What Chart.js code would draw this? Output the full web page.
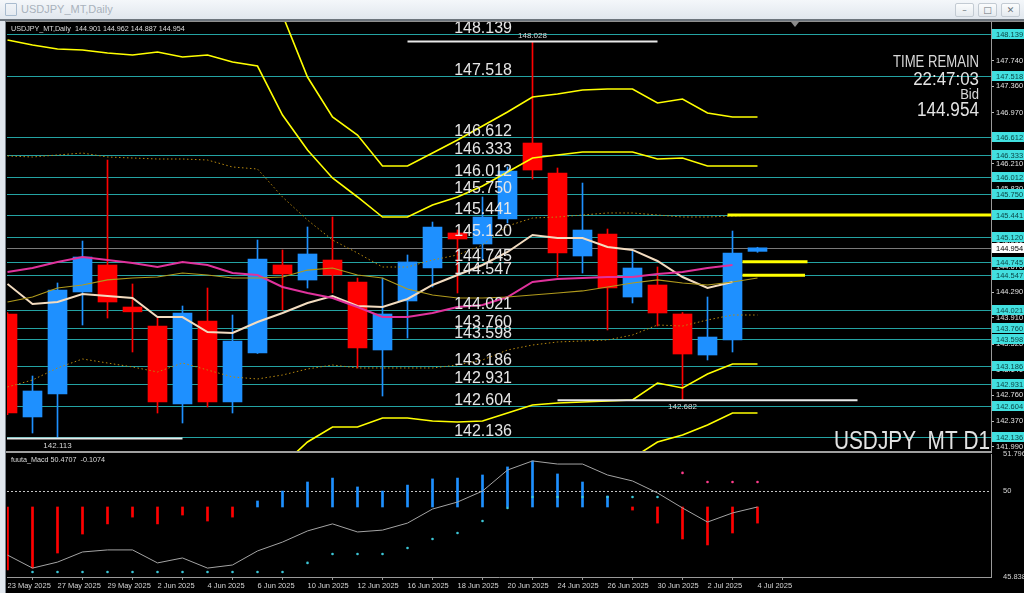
<!DOCTYPE html>
<html>
<head>
<meta charset="utf-8">
<title>USDJPY_MT,Daily</title>
<script src="https://cdn.jsdelivr.net/npm/chart.js@4.4.1/dist/chart.umd.min.js"></script>
<style>
  html, body { margin: 0; padding: 0; width: 1024px; height: 593px; overflow: hidden; background: #000; }
  #titlebar { position: absolute; left: 0; top: 0; width: 1024px; height: 19px; background: linear-gradient(#f4f7fa, #e1e7ee); border-bottom: 2px solid #6c747c; }
  #titlebar .icon { position: absolute; left: 5px; top: 3px; width: 10px; height: 11px; border: 1px solid #a9bccf; border-radius: 1px; }
  #titlebar .name { position: absolute; left: 21px; top: 3px; font: 11px "Liberation Sans", Arial, sans-serif; color: #a9b2bc; }
  .btn { position: absolute; top: 3px; width: 17px; height: 12px; border: 1px solid #c3cbd3; border-radius: 2px; background: linear-gradient(#fbfcfd, #e5eaef); font: 9px "DejaVu Sans", sans-serif; color: #6a727a; text-align: center; line-height: 12px; }
  #leftframe { position: absolute; left: 0; top: 21px; width: 5px; height: 572px; background: #e1e7ee; border-right: 1px solid #7b838b; }
  canvas { position: absolute; left: 0; top: 0; }
</style>
</head>
<body>
<div id="titlebar">
  <div class="icon"></div>
  <div class="name">USDJPY_MT,Daily</div>
  <div class="btn" style="left:955px">&#8211;</div>
  <div class="btn" style="left:978px">&#9633;</div>
  <div class="btn" style="left:1001px">&#10005;</div>
</div>
<div id="leftframe"></div>
<canvas id="priceChart" width="1024" height="593"></canvas>
<canvas id="macdChart" width="1024" height="593"></canvas>
<script>
// ---------- data ----------
const DATES = ['23 May 2025', '26 May 2025', '27 May 2025', '28 May 2025', '29 May 2025', '30 May 2025',
  '2 Jun 2025', '3 Jun 2025', '4 Jun 2025', '5 Jun 2025', '6 Jun 2025', '9 Jun 2025', '10 Jun 2025',
  '11 Jun 2025', '12 Jun 2025', '13 Jun 2025', '16 Jun 2025', '17 Jun 2025', '18 Jun 2025', '19 Jun 2025',
  '20 Jun 2025', '23 Jun 2025', '24 Jun 2025', '25 Jun 2025', '26 Jun 2025', '27 Jun 2025', '30 Jun 2025',
  '1 Jul 2025', '2 Jul 2025', '3 Jul 2025', '4 Jul 2025'];

const OPEN  = [143.968, 142.434, 142.776, 144.296, 144.698, 144.072, 143.789, 142.627, 143.864, 142.657, 143.387,
  144.698, 144.474, 144.772, 144.445, 143.432, 144.162, 144.653, 145.175, 145.011, 145.383, 146.515, 146.068,
  144.832, 145.160, 144.221, 144.400, 143.968, 143.357, 143.581, 144.901];
const HIGH  = [143.990, 143.044, 144.430, 145.055, 146.262, 144.415, 143.908, 144.087, 144.355, 143.953, 145.070,
  144.921, 145.264, 145.413, 144.504, 144.504, 144.847, 145.338, 145.220, 145.711, 146.158, 148.028, 146.143,
  145.919, 145.234, 144.906, 144.668, 143.990, 144.221, 145.204, 144.962];
const LOW   = [142.470, 142.195, 142.113, 143.804, 143.908, 143.402, 142.493, 142.344, 142.583, 142.493, 143.380,
  144.027, 144.355, 144.281, 143.164, 142.746, 143.610, 144.370, 144.281, 144.772, 145.324, 145.979, 144.519,
  144.579, 143.730, 144.132, 143.789, 142.682, 143.283, 143.402, 144.887];
const CLOSE = [142.493, 142.821, 144.326, 144.817, 144.147, 144.000, 142.657, 143.983, 142.657, 143.566, 144.787,
  144.564, 144.862, 144.549, 143.461, 143.968, 144.743, 145.264, 145.085, 145.413, 146.098, 146.113, 144.877,
  145.219, 144.355, 144.653, 143.983, 143.372, 143.625, 144.877, 144.954];

// band lines
const UPPER_OUTER = [148.90, 148.88, 148.86, 148.84, 148.82, 148.80, 148.79, 148.78, 148.76, 148.72, 148.66,
  148.422, 147.498, 146.903, 146.634, 146.173, 146.173, 146.366, 146.560, 146.769, 146.977, 147.201, 147.245,
  147.305, 147.320, 147.320, 147.111, 147.171, 146.962, 146.903, 146.903];
const UPPER_INNER = [148.050, 147.975, 147.916, 147.901, 147.856, 147.826, 147.871, 147.796, 147.826, 147.722,
  147.662, 146.932, 146.411, 145.994, 145.711, 145.413, 145.413, 145.592, 145.711, 145.875, 146.083, 146.292,
  146.337, 146.381, 146.381, 146.381, 146.277, 146.292, 146.173, 146.173, 146.173];
const UPPER_DOT = [146.322, 146.307, 146.337, 146.366, 146.307, 146.292, 146.277, 146.277, 146.262, 146.158,
  146.128, 145.711, 145.368, 145.070, 144.877, 144.668, 144.668, 144.773, 144.847, 144.996, 145.279, 145.398,
  145.413, 145.443, 145.473, 145.473, 145.443, 145.413, 145.413, 145.428, 145.443];
const MIDDLE = [144.147, 144.221, 144.355, 144.400, 144.475, 144.504, 144.519, 144.579, 144.549, 144.504, 144.504,
  144.519, 144.623, 144.653, 144.549, 144.504, 144.341, 144.251, 144.206, 144.206, 144.221, 144.251, 144.281,
  144.311, 144.370, 144.430, 144.475, 144.430, 144.400, 144.445, 144.504];
const LOWER_DOT = [142.881, 142.985, 143.164, 143.298, 143.238, 143.179, 143.104, 143.238, 143.134, 143.030,
  143.000, 143.059, 143.149, 143.208, 143.164, 143.164, 143.164, 143.164, 143.208, 143.283, 143.432, 143.506,
  143.551, 143.566, 143.581, 143.655, 143.804, 143.789, 143.879, 143.953, 143.953];
const LOWER_INNER = [141.55, 141.57, 141.60, 141.62, 141.63, 141.63, 141.62, 141.64, 141.63, 141.62, 141.65,
  141.719, 142.061, 142.285, 142.285, 142.419, 142.419, 142.374, 142.359, 142.374, 142.493, 142.612, 142.642,
  142.657, 142.672, 142.687, 142.940, 142.866, 143.074, 143.223, 143.223];
const LOWER_OUTER = [141.30, 141.32, 141.35, 141.37, 141.38, 141.38, 141.37, 141.40, 141.39, 141.38, 141.41,
  141.45, 141.55, 141.62, 141.62, 141.68, 141.68, 141.66, 141.66, 141.67, 141.72, 141.78, 141.80, 141.81, 141.81,
  141.823, 142.061, 142.166, 142.315, 142.493, 142.493];

// moving averages
const MA_PINK = [144.594, 144.653, 144.743, 144.817, 144.772, 144.728, 144.668, 144.743, 144.698, 144.579, 144.549,
  144.370, 144.281, 144.206, 144.072, 143.923, 143.923, 143.983, 144.072, 144.102, 144.221, 144.445, 144.489,
  144.504, 144.519, 144.519, 144.564, 144.594, 144.653, 144.698, null];
const MA_FAST = [144.415, 144.117, 144.147, 144.266, 144.236, 144.206, 143.923, 143.923, 143.700, 143.685, 143.849,
  143.983, 144.132, 144.236, 144.087, 144.072, 144.192, 144.400, 144.549, 144.698, 144.892, 145.145, 145.100,
  145.100, 144.966, 144.922, 144.758, 144.519, 144.355, 144.445, null];

// horizontal levels (lines + labels)
const LEVELS = [148.139, 147.518, 146.612, 146.333, 146.012, 145.750, 145.441, 145.120, 144.745, 144.547,
  144.021, 143.760, 143.598, 143.186, 142.931, 142.604, 142.136];
const PRICE_TICKS = [147.740, 147.360, 146.970, 146.590, 146.210, 145.830, 145.450, 145.050, 144.670, 144.290,
  143.910, 143.520, 143.140, 142.760, 142.370, 141.990];
const PRICE_MIN = 141.927;
const PRICE_MAX = 148.318;
const BID = 144.954;

// high / low markers
const MARK_PRICES = [148.028, 142.682, 142.113];
const MARK_BARS = [21, 27, 2];

// short projection levels on the right
const PROJ_LEVELS = [145.441, 144.745, 144.547];
const PROJ_FROM = [28.8, 29.4, 29.4];
const PROJ_TO = [39.4, 32.0, 31.9];

// MACD panel
const HIST_BASE = 49.23;
const HIST = [46.18, 46.27, 47.00, 47.92, 48.41, 48.74, 48.41, 48.84, 48.55, 48.74, 49.52, 50.00, 50.44, 50.63,
  50.20, 50.00, 50.29, 50.59, 50.63, 50.78, 51.17, 51.46, 50.83, 50.44, 49.76, 49.08, 48.45, 47.68, 47.39, 47.97, 48.45];
const MACD_LINE = [46.90, 46.27, 46.56, 47.05, 47.15, 47.15, 46.52, 46.76, 46.27, 46.42, 47.10, 47.53, 48.07, 48.41,
  48.02, 48.11, 48.45, 49.13, 49.47, 50.00, 51.02, 51.46, 51.31, 51.31, 50.78, 50.49, 49.91, 49.18, 48.50, 48.94, 49.23];
const MACD_DOTS = [null, 46.08, 46.08, 46.08, 46.08, 46.08, 46.08, 46.08, 46.08, 46.08, 46.08, 46.08, 46.52, 46.95,
  46.95, 46.95, 47.24, 47.68, 47.97, 48.55, 49.18, 49.71, 49.71, 49.71, 49.71, 49.71, 49.71, 50.88, 50.44, 50.44, 50.44];
const MACD_MIN = 45.838;
const MACD_MAX = 51.7964;
const MACD_TICKS = [45.838, 50, 51.7964];
const MACD_LEVEL = 50;

// texts
const HEADER = 'USDJPY_MT,Daily  144.901 144.962 144.887 144.954';
const MACD_HEADER = 'fuuta_Macd 50.4707  -0.1074';
const SYMBOL_TEXT = 'USDJPY_MT D1';
const TIMER = ['TIME REMAIN', '22:47:03', 'Bid', '144.954'];

// ---------- style ----------
const FONT = "'Liberation Sans', Arial, sans-serif";
const BULL = '#1e90ff';
const BEAR = '#ff0000';
const YELLOW = '#ffff00';
const LEVEL_LINE = '#24a3a3';
const LEVEL_BOX = '#42e0e0';
const X_MIN = -0.02;
const X_MAX = X_MIN + 984 / 25;
const MARK_SPANS = [[-5, 5], [-5, 7], [-2.02, 5]];
const MARK_LABEL_DY = [-6, 6, 7];

Chart.defaults.font.family = FONT;

const idx = DATES.map((d, i) => i);
const pts = arr => arr.map((v, i) => ({ x: i, y: v })).filter(p => p.y !== null);
const candleColors = idx.map(i => CLOSE[i] >= OPEN[i] ? BULL : BEAR);

function line(data, color, width, dash, order) {
  return { type: 'line', data: pts(data), borderColor: color, borderWidth: width, borderDash: dash || [],
    pointRadius: 0, tension: 0, order: order === undefined ? 0 : order };
}

function text(ctx, str, x, y, font, color, align, sx, baseline) {
  ctx.save();
  ctx.font = font;
  ctx.fillStyle = color;
  ctx.textAlign = align || 'left';
  ctx.textBaseline = baseline || 'alphabetic';
  ctx.translate(x, y);
  ctx.scale(sx || 1, 1);
  ctx.fillText(str, 0, 0);
  ctx.restore();
}

const priceOverlay = {
  id: 'priceOverlay',
  beforeDatasetsDraw(chart) {
    const { ctx, chartArea: a } = chart;
    const y = chart.scales.y;
    ctx.save();
    ctx.beginPath();
    ctx.rect(a.left, a.top, a.right - a.left, a.bottom - a.top);
    ctx.clip();
    ctx.lineWidth = 1;
    ctx.strokeStyle = '#7a7a7a';
    let py = Math.round(y.getPixelForValue(BID)) + 0.5;
    ctx.beginPath(); ctx.moveTo(a.left, py); ctx.lineTo(a.right, py); ctx.stroke();
    ctx.strokeStyle = LEVEL_LINE;
    LEVELS.forEach(v => {
      py = Math.round(y.getPixelForValue(v)) + 0.5;
      ctx.beginPath(); ctx.moveTo(a.left, py); ctx.lineTo(a.right, py); ctx.stroke();
    });
    ctx.restore();
  },
  afterDatasetsDraw(chart) {
    const { ctx, chartArea: a } = chart;
    const x = chart.scales.x, y = chart.scales.y;
    ctx.save();
    ctx.beginPath();
    ctx.rect(a.left, a.top, a.right - a.left, a.bottom - a.top);
    ctx.clip();
    // big level labels
    LEVELS.forEach(v => {
      const py = Math.round(y.getPixelForValue(v)) - 1;
      text(ctx, v.toFixed(3), 512, py, '16px ' + FONT, '#e6e6e6', 'right');
    });
    // high / low marker labels
    MARK_PRICES.forEach((p, k) => {
      const px = x.getPixelForValue(MARK_BARS[k]);
      const py = y.getPixelForValue(p) + MARK_LABEL_DY[k];
      text(ctx, p.toFixed(3), px, py, '8px ' + FONT, '#d6d6d6', 'center', 1, 'middle');
    });
    // header
    text(ctx, HEADER, 11, 29, '7.2px ' + FONT, '#dcdcdc', 'left', 1, 'middle');
    // timer block
    text(ctx, TIMER[0], 979, 67, '16px ' + FONT, '#d8d8d8', 'right', 0.82);
    text(ctx, TIMER[1], 979, 85, '19px ' + FONT, '#e4e4e4', 'right', 0.89);
    text(ctx, TIMER[2], 979, 99, '15px ' + FONT, '#d8d8d8', 'right', 0.87);
    text(ctx, TIMER[3], 979, 116, '19.5px ' + FONT, '#e4e4e4', 'right', 0.88);
    // symbol
    text(ctx, SYMBOL_TEXT, 990, 449, '26px ' + FONT, '#e2e2e2', 'right', 0.8);
    ctx.restore();
  },
  afterDraw(chart) {
    const { ctx, chartArea: a } = chart;
    const y = chart.scales.y;
    ctx.save();
    ctx.font = '7.5px ' + FONT;
    ctx.textBaseline = 'middle';
    ctx.textAlign = 'left';
    LEVELS.forEach(v => {
      const py = Math.round(y.getPixelForValue(v));
      ctx.fillStyle = LEVEL_BOX;
      ctx.fillRect(a.right + 1, py - 5, 1024 - a.right - 1, 10);
      ctx.fillStyle = '#0b4646';
      ctx.fillText(v.toFixed(3), a.right + 5, py + 0.5);
    });
    const by = Math.round(y.getPixelForValue(BID));
    ctx.fillStyle = '#ffffff';
    ctx.fillRect(a.right + 1, by - 5, 1024 - a.right - 1, 10);
    ctx.fillStyle = '#000000';
    ctx.fillText(BID.toFixed(3), a.right + 5, by + 0.5);
    // frame lines
    ctx.fillStyle = '#8f8f8f';
    ctx.fillRect(a.left - 1, a.top - 1, 1024 - a.left + 1, 1);
    ctx.fillStyle = '#a0a0a0';
    ctx.fillRect(a.left - 1, a.bottom, a.right - a.left + 2, 2);
    // chart shift marker
    ctx.fillStyle = '#8a8a8a';
    ctx.beginPath(); ctx.moveTo(791, a.top); ctx.lineTo(799, a.top); ctx.lineTo(795, a.top + 5); ctx.closePath(); ctx.fill();
    ctx.restore();
  }
};

const priceDatasets = [
  line(UPPER_OUTER, YELLOW, 1.6),
  line(UPPER_INNER, YELLOW, 1.6),
  line(UPPER_DOT, '#b8890f', 1, [1.5, 2.5]),
  line(MIDDLE, '#b09a1c', 1.2),
  line(LOWER_DOT, '#b8890f', 1, [1.5, 2.5]),
  line(LOWER_INNER, YELLOW, 1.6),
  line(LOWER_OUTER, YELLOW, 1.6),
  line(MA_PINK, '#e0329c', 2),
  line(MA_FAST, '#f3dcc0', 2),
  {
    type: 'bar', label: 'body', order: 5, grouped: false, barThickness: 19,
    data: idx.map(i => ({ x: i, y: [OPEN[i], CLOSE[i]] })),
    backgroundColor: candleColors
  },
  {
    type: 'bar', label: 'wick', order: 6, grouped: false, barThickness: 1,
    data: idx.map(i => ({ x: i, y: [LOW[i], HIGH[i]] })),
    backgroundColor: candleColors
  }
];
MARK_PRICES.forEach((p, k) => {
  priceDatasets.push({
    type: 'line', order: -1, borderColor: '#e8e8e8', borderWidth: 2, pointRadius: 0,
    data: [{ x: MARK_BARS[k] + MARK_SPANS[k][0], y: p }, { x: MARK_BARS[k] + MARK_SPANS[k][1], y: p }]
  });
});
PROJ_LEVELS.forEach((p, k) => {
  priceDatasets.push({
    type: 'line', order: -1, borderColor: YELLOW, borderWidth: 3, pointRadius: 0,
    data: [{ x: PROJ_FROM[k], y: p }, { x: PROJ_TO[k], y: p }]
  });
});

new Chart(document.getElementById('priceChart'), {
  type: 'bar',
  data: { datasets: priceDatasets },
  options: {
    responsive: false,
    animation: false,
    events: [],
    layout: { padding: { top: 22, bottom: 142, left: 7, right: 0 } },
    plugins: { legend: { display: false }, tooltip: { enabled: false } },
    scales: {
      x: { type: 'linear', min: X_MIN, max: X_MAX, offset: false, display: false },
      y: {
        type: 'linear', position: 'right', min: PRICE_MIN, max: PRICE_MAX,
        afterFit(s) { s.width = 33; },
        afterBuildTicks(s) { s.ticks = PRICE_TICKS.map(v => ({ value: v })); },
        grid: { display: true, drawOnChartArea: false, tickLength: 3, color: '#bdbdbd' },
        border: { color: '#9a9a9a' },
        ticks: { autoSkip: false, padding: 2, color: '#e0e0e0', font: { size: 7.5 }, callback: v => v.toFixed(3) }
      }
    }
  },
  plugins: [priceOverlay]
});

const macdOverlay = {
  id: 'macdOverlay',
  beforeDatasetsDraw(chart) {
    const { ctx, chartArea: a } = chart;
    const py = Math.round(chart.scales.y.getPixelForValue(MACD_LEVEL)) + 0.5;
    ctx.save();
    ctx.strokeStyle = '#c4c4c4';
    ctx.lineWidth = 1;
    ctx.setLineDash([2, 2]);
    ctx.beginPath(); ctx.moveTo(a.left, py); ctx.lineTo(a.right, py); ctx.stroke();
    ctx.restore();
  },
  afterDraw(chart) {
    const { ctx, chartArea: a } = chart;
    text(ctx, MACD_HEADER, a.left + 4, a.top + 6, '7.2px ' + FONT, '#dcdcdc', 'left', 1, 'middle');
  }
};

new Chart(document.getElementById('macdChart'), {
  type: 'bar',
  data: {
    datasets: [
      {
        type: 'line', order: -1, showLine: false, pointRadius: 1.3, pointBorderWidth: 0,
        data: pts(MACD_DOTS),
        pointBackgroundColor: pts(MACD_DOTS).map(p => p.y > MACD_LINE[p.x] ? '#ff3c8c' : '#3cc6d6')
      },
      line(MACD_LINE, '#a4a4a4', 1, [], 0),
      {
        type: 'bar', order: 2, grouped: false, barThickness: 2,
        data: idx.map(i => ({ x: i, y: [HIST_BASE, HIST[i]] })),
        backgroundColor: HIST.map(v => v >= HIST_BASE ? BULL : BEAR)
      }
    ]
  },
  options: {
    responsive: false,
    animation: false,
    events: [],
    layout: { padding: { top: 454, left: 7, right: 0, bottom: 0 } },
    plugins: { legend: { display: false }, tooltip: { enabled: false } },
    scales: {
      x: {
        type: 'linear', min: X_MIN, max: X_MAX, offset: false, position: 'bottom',
        afterFit(s) { s.height = 16; },
        afterBuildTicks(s) { s.ticks = idx.filter(i => i % 2 === 0).map(i => ({ value: i })); },
        grid: { display: true, drawOnChartArea: false, tickLength: 3, color: '#9a9a9a' },
        border: { color: '#9a9a9a' },
        ticks: { align: 'start', autoSkip: false, maxRotation: 0, padding: 1, color: '#d4d4d4', font: { size: 7.5 },
          callback: v => DATES[v] }
      },
      y: {
        type: 'linear', position: 'right', min: MACD_MIN, max: MACD_MAX,
        afterFit(s) { s.width = 33; },
        afterBuildTicks(s) { s.ticks = MACD_TICKS.map(v => ({ value: v })); },
        grid: { display: false },
        border: { color: '#9a9a9a' },
        ticks: { autoSkip: false, padding: 4, color: '#d4d4d4', font: { size: 7.5 }, callback: v => String(v) }
      }
    }
  },
  plugins: [macdOverlay]
});
</script>
</body>
</html>
